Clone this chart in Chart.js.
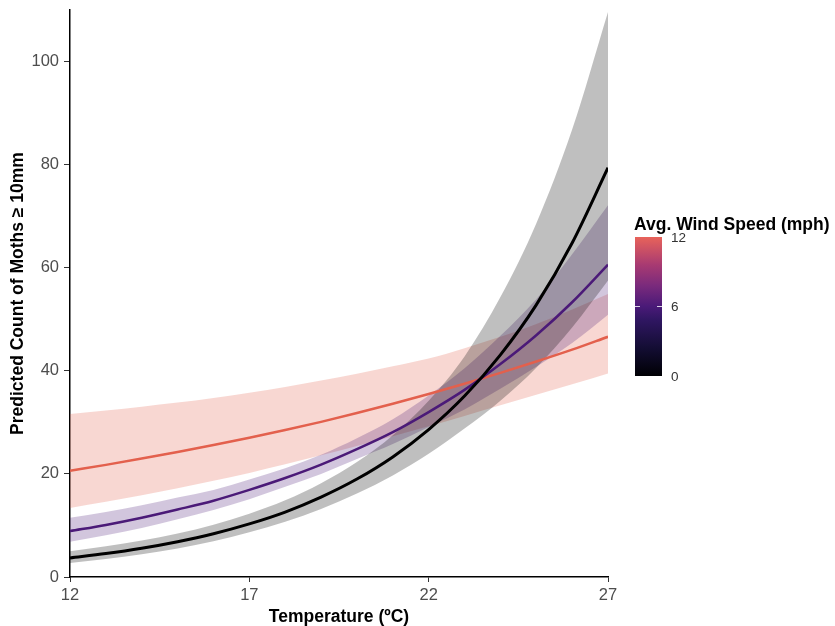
<!DOCTYPE html>
<html>
<head>
<meta charset="utf-8">
<script src="https://cdn.jsdelivr.net/npm/chart.js@4/dist/chart.umd.min.js"></script>
<style>
html,body{margin:0;padding:0;background:#fff;}
#wrap{width:835px;height:626px;position:relative;}
</style>
</head>
<body>
<div id="wrap"><canvas id="c" width="835" height="626"></canvas></div>
<script>
// ---- data ----
const temps = [12,13,14,15,16,17,18,19,20,21,22,23,24,25,26,27];

// wind speed 0 mph
const mean0 = [3.7,4.54,5.57,6.84,8.39,10.3,12.6,15.5,19.0,23.3,28.6,35.1,43.1,52.8,64.8,79.4];
const low0  = [2.74,3.47,4.39,5.54,6.93,8.66,10.7,13.2,16.2,19.7,23.9,28.8,34.2,40.6,48.4,57.5];
const high0 = [5.0,5.95,7.07,8.44,10.15,12.26,14.87,18.2,22.3,27.5,34.2,42.8,54.3,68.6,86.8,109.6];

// wind speed 6 mph
const mean6 = [8.9,10.1,11.5,13.1,14.8,16.9,19.2,21.8,24.8,28.1,32.0,36.3,41.3,46.9,53.3,60.6];
const low6  = [6.86,8.1,9.5,11.2,13.0,15.1,17.5,20.0,22.9,25.8,29.1,32.5,36.5,40.8,45.4,50.9];
const high6 = [11.5,12.6,13.9,15.4,16.9,18.9,21.1,23.7,26.9,30.6,35.2,40.5,46.8,53.9,62.6,72.1];

// wind speed 12 mph
const mean12 = [20.6,21.75,22.97,24.25,25.6,27.0,28.5,30.1,31.8,33.6,35.5,37.5,39.6,41.8,44.1,46.6];
const low12  = [13.4,14.6,15.85,17.2,18.65,20.2,21.85,23.6,25.4,27.3,29.25,31.25,33.3,35.35,37.4,39.5];
const high12 = [31.6,32.3,33.05,33.85,34.75,35.75,36.85,38.1,39.45,40.9,42.4,44.4,46.6,49.1,51.9,54.9];

const xTicks = [12,17,22,27];
const yTicks = [0,20,40,60,80,100];
const windTicks = [0,6,12];

const xTitle = 'Temperature (ºC)';
const yTitle = 'Predicted Count of Moths ≥ 10mm';
const legendTitle = 'Avg. Wind Speed (mph)';

// ---- styling ----
const FONT = '"Liberation Sans", Arial, Helvetica, sans-serif';
const COL0 = '#000000', COL6 = '#4B1A78', COL12 = '#E3604D';
const FILL0 = 'rgba(0,0,0,0.25)', FILL6 = 'rgba(75,26,120,0.25)', FILL12 = 'rgba(227,96,77,0.25)';

function pts(arr){ return temps.map((t,i)=>({x:t,y:arr[i]})); }

function lineDs(label, arr, color, w){
  return {label, data: pts(arr), borderColor: color, borderWidth: w, pointRadius: 0,
          fill: false, cubicInterpolationMode: 'monotone'};
}
function bandDs(label, arr, fillCol, target){
  return {label, data: pts(arr), borderColor: 'rgba(0,0,0,0)', borderWidth: 0, pointRadius: 0,
          backgroundColor: fillCol, fill: target === null ? false : {target: target},
          cubicInterpolationMode: 'monotone'};
}

const datasets = [
  lineDs('0 mph', mean0, COL0, 3),
  lineDs('6 mph', mean6, COL6, 2.5),
  lineDs('12 mph', mean12, COL12, 2.5),
  bandDs('0 upper', high0, FILL0, 4),
  bandDs('0 lower', low0, FILL0, null),
  bandDs('6 upper', high6, FILL6, 6),
  bandDs('6 lower', low6, FILL6, null),
  bandDs('12 upper', high12, FILL12, 8),
  bandDs('12 lower', low12, FILL12, null)
];

const colorbarPlugin = {
  id: 'colorbar',
  afterDraw(chart){
    const ctx = chart.ctx;
    ctx.save();
    ctx.fillStyle = '#000';
    ctx.font = 'bold 17.5px ' + FONT;
    ctx.textBaseline = 'alphabetic';
    ctx.textAlign = 'left';
    ctx.fillText(legendTitle, 634, 230);
    const x0 = 635, w = 27, top = 237, bot = 376;
    const g = ctx.createLinearGradient(0, bot, 0, top);
    g.addColorStop(0, '#000004');
    g.addColorStop(0.2, '#130d33');
    g.addColorStop(0.4, '#2f1661');
    g.addColorStop(0.5, '#4a1a78');
    g.addColorStop(0.65, '#7a2a7c');
    g.addColorStop(0.8, '#a83a72');
    g.addColorStop(1, '#e8635a');
    ctx.fillStyle = g;
    ctx.fillRect(x0, top, w, bot - top);
    const vmin = windTicks[0], vmax = windTicks[windTicks.length-1];
    ctx.font = '13.5px ' + FONT;
    ctx.textBaseline = 'middle';
    windTicks.forEach(v => {
      const y = bot - (v - vmin) / (vmax - vmin) * (bot - top);
      ctx.strokeStyle = 'rgba(255,255,255,0.8)';
      ctx.lineWidth = 1;
      if (v !== vmin && v !== vmax) {
        ctx.beginPath(); ctx.moveTo(x0, y); ctx.lineTo(x0 + 5, y); ctx.stroke();
        ctx.beginPath(); ctx.moveTo(x0 + w - 5, y); ctx.lineTo(x0 + w, y); ctx.stroke();
      }
      ctx.fillStyle = '#333';
      ctx.fillText(String(v), 671, y + 1);
    });
    ctx.restore();
  }
};

new Chart(document.getElementById('c'), {
  type: 'line',
  data: { datasets },
  plugins: [colorbarPlugin],
  options: {
    responsive: false,
    animation: false,
    devicePixelRatio: 1,
    layout: { padding: { left: 8, right: 227, top: 10, bottom: 0 } },
    plugins: { legend: { display: false }, tooltip: { enabled: false } },
    elements: { line: { tension: 0 } },
    scales: {
      x: {
        type: 'linear', min: 12, max: 27,
        afterBuildTicks: s => { s.ticks = xTicks.map(v => ({value: v})); },
        afterFit: s => { s.height = 49; s.paddingLeft = 0; s.paddingRight = 0; },
        grid: { display: true, drawOnChartArea: false, drawTicks: true, tickLength: 5, color: '#333', lineWidth: 1 },
        border: { display: true, color: '#000', width: 1.5 },
        ticks: { color: '#4d4d4d', font: { size: 16.5, family: FONT }, padding: 4, maxRotation: 0 },
        title: { display: true, text: xTitle, color: '#000', font: { size: 17.5, weight: 'bold', family: FONT, lineHeight: 1.0 }, padding: { top: 0, bottom: 0 } }
      },
      y: {
        type: 'linear', min: 0, max: 110,
        afterBuildTicks: s => { s.ticks = yTicks.map(v => ({value: v})); },
        afterFit: s => { s.width = 62; s.paddingTop = 0; s.paddingBottom = 0; },
        grid: { display: true, drawOnChartArea: false, drawTicks: true, tickLength: 6, color: '#333', lineWidth: 1 },
        border: { display: true, color: '#000', width: 1.5 },
        ticks: { color: '#4d4d4d', font: { size: 16.5, family: FONT }, padding: 5 },
        title: { display: true, text: yTitle, color: '#000', font: { size: 17.5, weight: 'bold', family: FONT }, padding: { top: 0, bottom: 0 } }
      }
    }
  }
});
</script>
</body>
</html>
